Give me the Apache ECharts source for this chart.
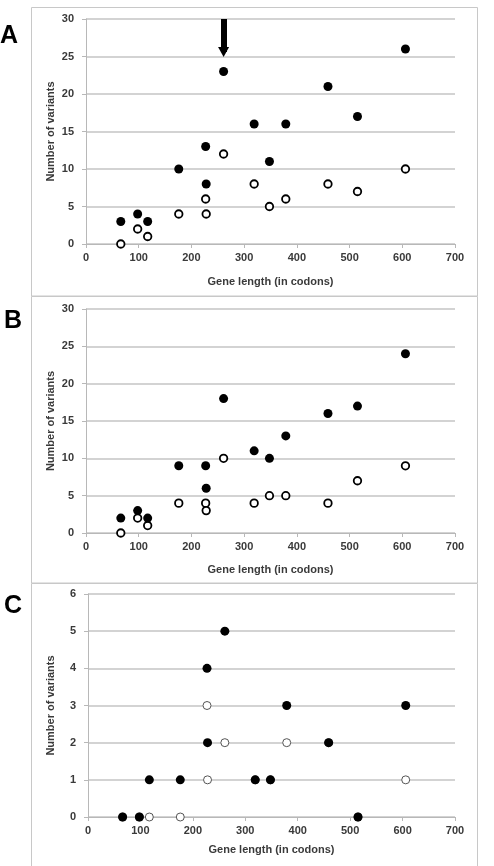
<!DOCTYPE html>
<html>
<head>
<meta charset="utf-8">
<script src="https://cdn.jsdelivr.net/npm/echarts@6/dist/echarts.min.js"></script>
<style>
  html, body { margin: 0; padding: 0; background: #fff; }
  #main { width: 494px; height: 866px; }
</style>
</head>
<body>
<div id="main"></div>
<script>
// gene lengths (codons), same order in every panel
var geneLength = [66, 98, 117, 176, 227, 228, 261, 319, 348, 379, 459, 515, 606];

// panel A
var aFilled = [3, 4, 3, 10, 13, 8, 23, 16, 11, 16, 21, 17, 26];
var aOpen = [0, 2, 1, 4, 6, 4, 12, 8, 5, 6, 8, 7, 10];
// panel B
var bFilled = [2, 3, 2, 9, 9, 6, 18, 11, 10, 13, 16, 17, 24];
var bOpen = [0, 2, 1, 4, 4, 3, 10, 4, 5, 5, 4, 7, 9];
// panel C
var cFilled = [0, 0, 1, 1, 4, 2, 5, 1, 1, 3, 2, 0, 3];
var cOpen = [0, 0, 0, 0, 3, 1, 2, 1, 1, 2, 2, 0, 1];

var panelLetters = ['A', 'B', 'C'];
var yMax = [30, 30, 6];
var yStep = [5, 5, 1];
var xTitle = 'Gene length (in codons)';
var yTitle = 'Number of variants';

var font = "'Liberation Sans', Arial, sans-serif";
var txt = '#3a3a3a';

function pairs(xs, ys) {
    var out = [];
    for (var i = 0; i < xs.length; i++) out.push([xs[i], ys[i]]);
    return out;
}

var grids = [
    {left: 86, right: 39, top: 19, height: 225},
    {left: 86, right: 39, top: 309, height: 224},
    {left: 88, right: 39, top: 594, height: 223}
];
var xGaps = [32, 31, 27];
var yGaps = [30, 30, 32];

var xAxes = [], yAxes = [];
for (var g = 0; g < 3; g++) {
    xAxes.push({
        gridIndex: g, type: 'value', min: 0, max: 700, interval: 100,
        name: xTitle, nameLocation: 'middle', nameGap: xGaps[g], nameMoveOverlap: false,
        nameTextStyle: {fontFamily: font, fontSize: 11, fontWeight: 'bold', color: txt},
        axisLine: {show: true, lineStyle: {color: '#b8b8b8', width: 1}},
        axisTick: {show: true, length: 4, lineStyle: {color: '#b8b8b8'}},
        axisLabel: {fontFamily: font, fontSize: 11, fontWeight: 'bold', color: txt, margin: 8},
        splitLine: {show: false}
    });
    yAxes.push({
        gridIndex: g, type: 'value', min: 0, max: yMax[g], interval: yStep[g],
        name: yTitle, nameLocation: 'middle', nameGap: yGaps[g], nameRotate: 90, nameMoveOverlap: false,
        nameTextStyle: {fontFamily: font, fontSize: 11, fontWeight: 'bold', color: txt},
        axisLine: {show: true, lineStyle: {color: '#b8b8b8', width: 1}},
        axisTick: {show: true, length: 4, lineStyle: {color: '#b8b8b8'}},
        axisLabel: {fontFamily: font, fontSize: 11, fontWeight: 'bold', color: txt, margin: 12},
        splitLine: {show: true, lineStyle: {color: '#c4c4c4', width: 1.5}}
    });
}

function openSeries(idx, data, thin) {
    return {
        type: 'scatter', xAxisIndex: idx, yAxisIndex: idx, data: pairs(geneLength, data),
        symbol: 'circle', symbolSize: thin ? 8 : 7.5,
        itemStyle: {color: '#fff', borderColor: thin ? '#555' : '#000', borderWidth: thin ? 1 : 1.8, opacity: 1},
        silent: true, z: 2
    };
}
function filledSeries(idx, data) {
    return {
        type: 'scatter', xAxisIndex: idx, yAxisIndex: idx, data: pairs(geneLength, data),
        symbol: 'circle', symbolSize: 9,
        itemStyle: {color: '#000', opacity: 1}, silent: true, z: 3
    };
}

var seriesA = filledSeries(0, aFilled);
seriesA.markLine = {
    silent: true, symbol: ['none', 'triangle'], symbolSize: [11, 10],
    label: {show: false},
    lineStyle: {color: '#000', width: 6, type: 'solid', opacity: 1},
    data: [[{coord: [261, 30]}, {coord: [261, 25.6]}]]
};

var option = {
    animation: false,
    backgroundColor: '#fff',
    grid: grids,
    xAxis: xAxes,
    yAxis: yAxes,
    series: [
        openSeries(0, aOpen), seriesA,
        openSeries(1, bOpen), filledSeries(1, bFilled),
        openSeries(2, cOpen, true), filledSeries(2, cFilled)
    ],
    graphic: [
        {type: 'rect', shape: {x: 31.5, y: 7.5, width: 446, height: 288.5}, style: {fill: 'none', stroke: '#c8c8c8', lineWidth: 1}, silent: true},
        {type: 'rect', shape: {x: 31.5, y: 296.5, width: 446, height: 286.5}, style: {fill: 'none', stroke: '#c8c8c8', lineWidth: 1}, silent: true},
        {type: 'rect', shape: {x: 31.5, y: 583.5, width: 446, height: 300}, style: {fill: 'none', stroke: '#c8c8c8', lineWidth: 1}, silent: true},
        {type: 'text', left: 0, top: 24, style: {text: panelLetters[0], font: 'bold 25px ' + font, fill: '#000'}},
        {type: 'text', left: 4, top: 309, style: {text: panelLetters[1], font: 'bold 25px ' + font, fill: '#000'}},
        {type: 'text', left: 4, top: 594, style: {text: panelLetters[2], font: 'bold 25px ' + font, fill: '#000'}}
    ]
};

var chart = echarts.init(document.getElementById('main'));
chart.setOption(option);
</script>
</body>
</html>
